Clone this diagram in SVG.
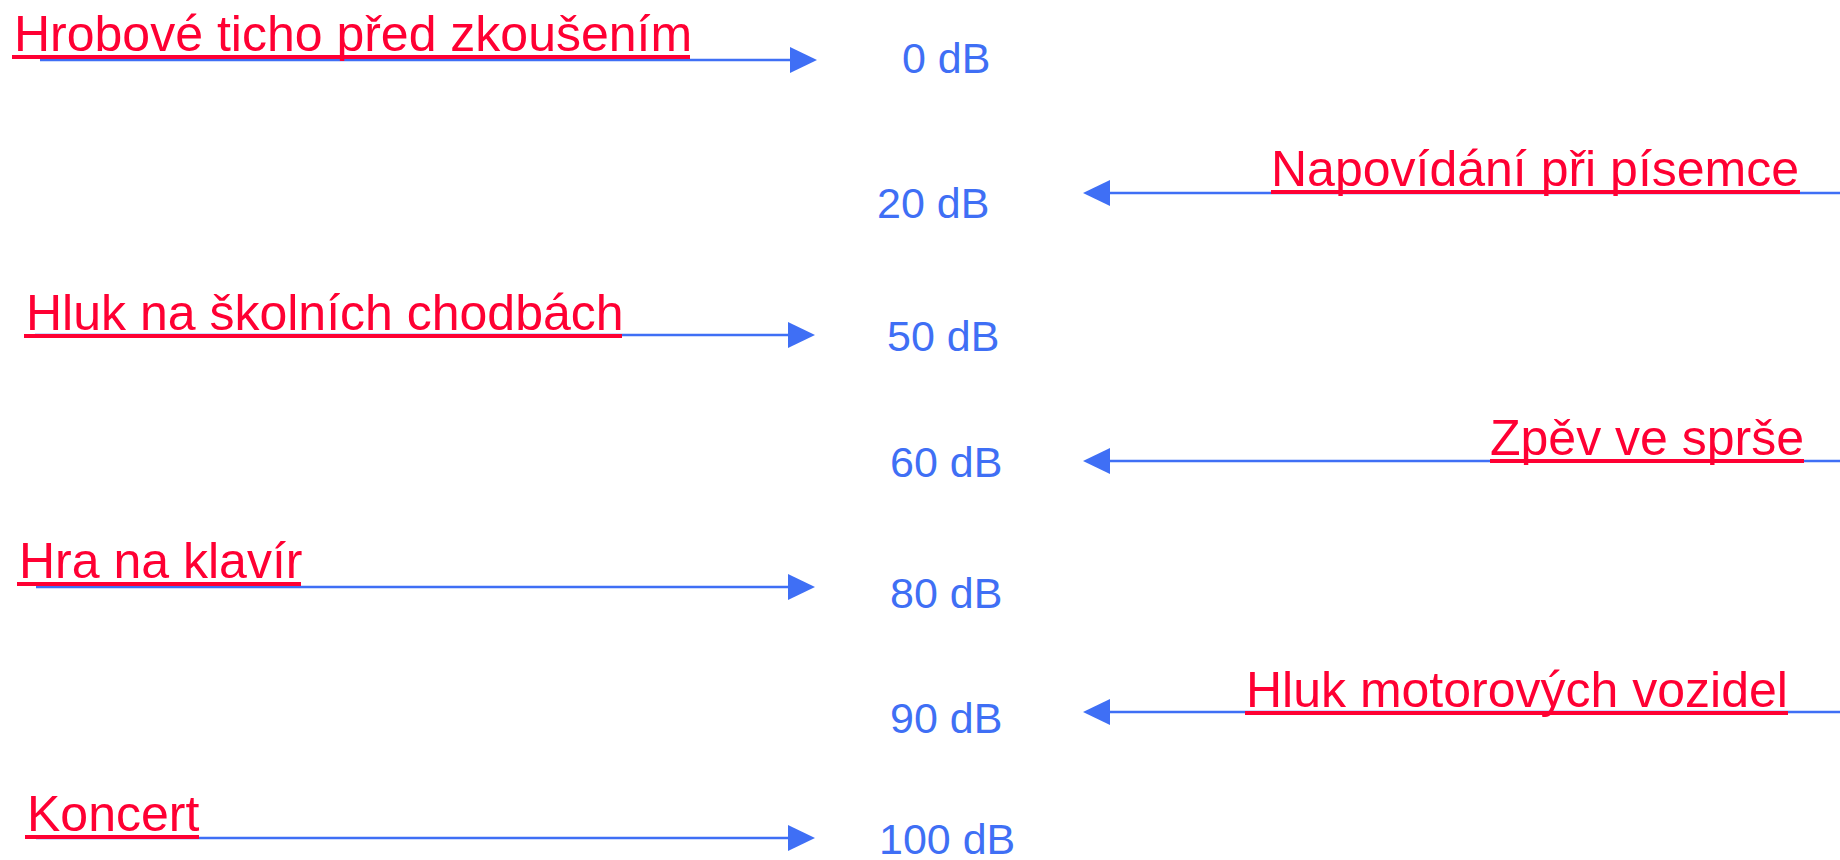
<svg xmlns="http://www.w3.org/2000/svg" width="1840" height="860" viewBox="0 0 1840 860">
<style>
.lbl{font-family:"Liberation Sans",Arial,sans-serif;font-size:50px;fill:#FF0033;}
.ul{stroke:#FF0033;stroke-width:4;}
.db{font-family:"Liberation Sans",Arial,sans-serif;font-size:43px;fill:#3F6FF5;}
.cn{stroke:#3F6FF5;stroke-width:2.5;fill:none;marker-end:url(#ah);}
</style>
<defs>
<marker id="ah" markerUnits="userSpaceOnUse" markerWidth="28" markerHeight="26" refX="0" refY="13" orient="auto" viewBox="0 0 28 26">
<path d="M0,0 L27,13 L0,26 Z" fill="#3F6FF5"/>
</marker>
</defs>
<rect width="1840" height="860" fill="#FFFFFF"/>
<g id="connectors">
<line class="cn" x1="40" y1="60" x2="790" y2="60"/>
<line class="cn" x1="1840" y1="193" x2="1110" y2="193"/>
<line class="cn" x1="35" y1="335" x2="788" y2="335"/>
<line class="cn" x1="1840" y1="461" x2="1110" y2="461"/>
<line class="cn" x1="36" y1="587" x2="788" y2="587"/>
<line class="cn" x1="1840" y1="712" x2="1110" y2="712"/>
<line class="cn" x1="36" y1="838" x2="788" y2="838"/>
</g>
<g id="n-0db"><text class="db" x="902" y="73">0 dB</text></g>
<g id="n-20db"><text class="db" x="877" y="218">20 dB</text></g>
<g id="n-50db"><text class="db" x="887" y="351">50 dB</text></g>
<g id="n-60db"><text class="db" x="890" y="477">60 dB</text></g>
<g id="n-80db"><text class="db" x="890" y="608">80 dB</text></g>
<g id="n-90db"><text class="db" x="890" y="733">90 dB</text></g>
<g id="n-100db"><text class="db" x="879" y="854">100 dB</text></g>
<g id="n-hrobove"><text class="lbl" x="14" y="51">Hrobové ticho před zkoušením</text><line class="ul" x1="12" y1="57" x2="690" y2="57"/></g>
<g id="n-napovidani"><text class="lbl" x="1271" y="186">Napovídání při písemce</text><line class="ul" x1="1271" y1="192" x2="1800" y2="192"/></g>
<g id="n-hluk-chodby"><text class="lbl" x="26" y="330">Hluk na školních chodbách</text><line class="ul" x1="24" y1="336" x2="622" y2="336"/></g>
<g id="n-zpev"><text class="lbl" x="1490" y="455">Zpěv ve sprše</text><line class="ul" x1="1490" y1="461" x2="1804" y2="461"/></g>
<g id="n-klavir"><text class="lbl" x="19" y="578">Hra na klavír</text><line class="ul" x1="17" y1="584" x2="301" y2="584"/></g>
<g id="n-vozidla"><text class="lbl" x="1246" y="707">Hluk motorových vozidel</text><line class="ul" x1="1245" y1="713" x2="1788" y2="713"/></g>
<g id="n-koncert"><text class="lbl" x="27" y="831">Koncert</text><line class="ul" x1="25" y1="837" x2="199" y2="837"/></g>
</svg>
